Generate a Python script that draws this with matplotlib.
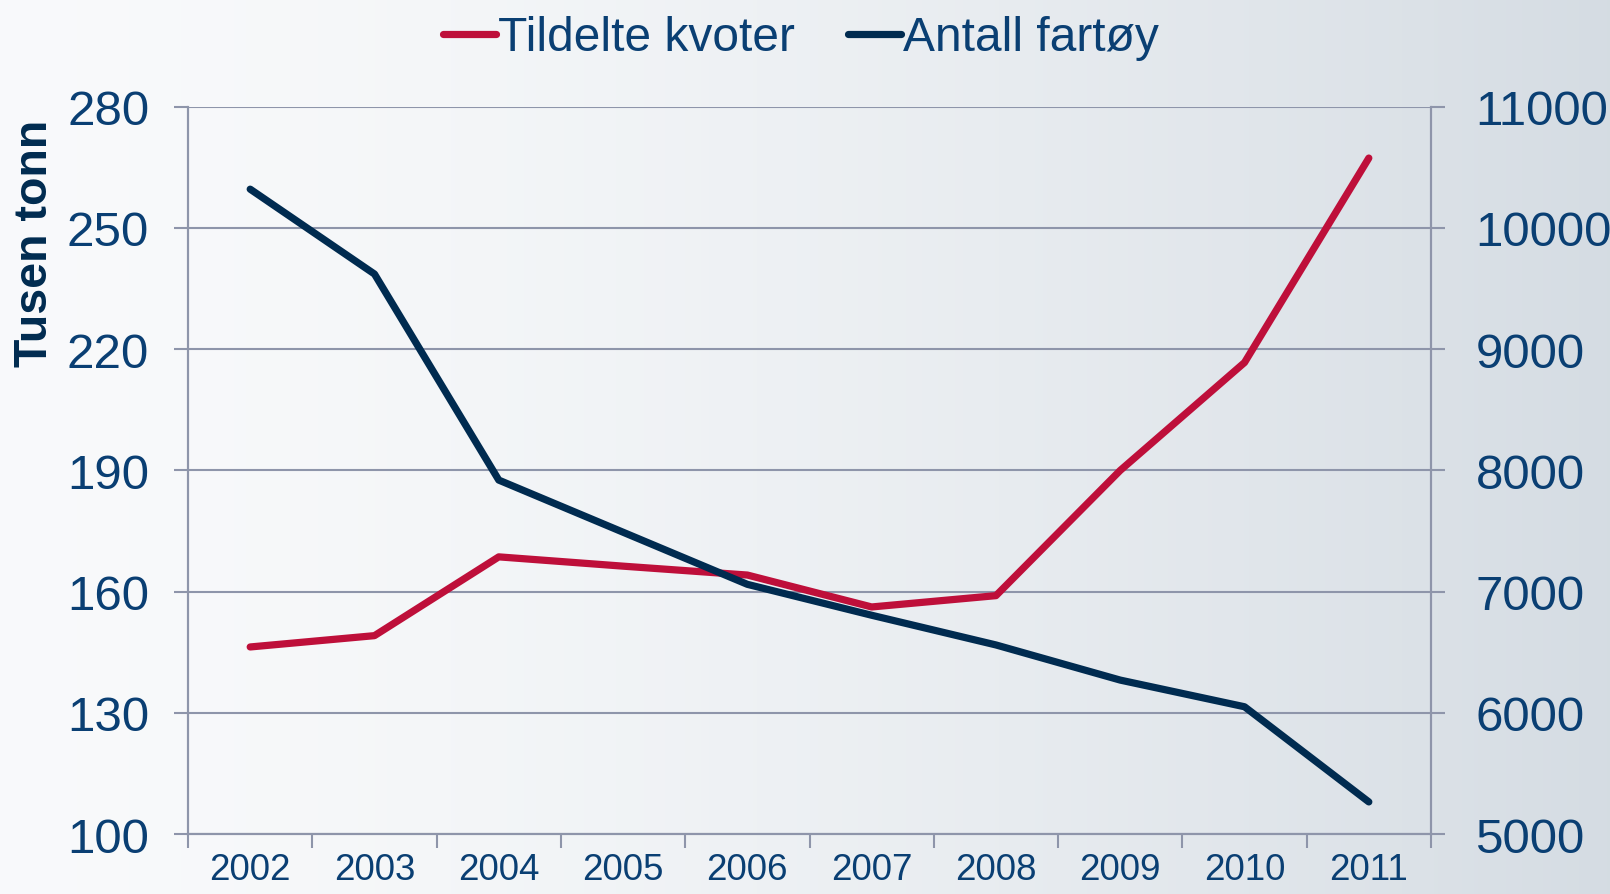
import numpy as np
import matplotlib.pyplot as plt

# data
years = ['2002', '2003', '2004', '2005', '2006', '2007', '2008', '2009', '2010', '2011']
kvoter = [146.3, 149.1, 168.6, 166.3, 164.1, 156.2, 159.0, 190.0, 216.7, 267.3]   # tusen tonn
fartoy = [10320, 9620, 7920, 7490, 7060, 6805, 6560, 6270, 6050, 5265]          # antall

red = '#BE0F3A'
navy = '#002B50'
txt = '#0A3F73'
grid = '#8E95AA'

plt.rcParams['font.family'] = ['Liberation Sans', 'DejaVu Sans']

fig = plt.figure(figsize=(16.1, 8.95), dpi=100)

# background gradient, white on the left to pale blue-grey on the right
bg = fig.add_axes([0, 0, 1, 1], zorder=-10)
c0 = np.array([0.975, 0.980, 0.985])
c1 = np.array([0.835, 0.863, 0.890])
t = np.linspace(0, 1, 400) ** 1.6
grad = c0[None, :] * (1 - t[:, None]) + c1[None, :] * t[:, None]
bg.imshow(grad[None, :, :], aspect='auto', extent=[0, 1, 0, 1])
bg.axis('off')

ax = fig.add_axes([0.1168, 0.067, 0.772, 0.8126])
ax.set_facecolor('none')
ax2 = ax.twinx()

x = np.arange(len(years))
l1, = ax.plot(x, kvoter, color=red, lw=5.2, solid_capstyle='round', solid_joinstyle='round',
              label='Tildelte kvoter', zorder=3)
l2, = ax2.plot(x, fartoy, color=navy, lw=5.2, solid_capstyle='round', solid_joinstyle='round',
               label='Antall fartøy', zorder=3)

ax.set_xlim(-0.5, len(years) - 0.5)
ax.set_ylim(100, 280)
ax.set_yticks(np.arange(100, 281, 30))
ax2.set_ylim(5000, 11000)
ax2.set_yticks(np.arange(5000, 11001, 1000))

ax.set_xticks(x)
ax.set_xticklabels(years)
ax.set_xticks(np.arange(-0.5, len(years), 1), minor=True)
ax.tick_params(axis='x', which='major', length=0, pad=13, labelsize=26.5, labelcolor=txt)
ax.tick_params(axis='x', which='minor', length=10, width=1.5, color=grid, direction='out')
ax.tick_params(axis='y', length=10, width=1.5, color=grid, labelsize=35.5, labelcolor=txt, pad=18)
ax2.tick_params(axis='y', length=10, width=1.5, color=grid, labelsize=35.5, labelcolor=txt, pad=22)

ax.grid(axis='y', color=grid, lw=1.5)
ax.set_axisbelow(True)
for a in (ax, ax2):
    a.spines['top'].set_visible(False)
    for s in ('left', 'right', 'bottom'):
        a.spines[s].set_color(grid)
        a.spines[s].set_linewidth(1.5)

# axis title sits high, not centred on the axis
fig.text(0.0215, 0.728, 'Tusen tonn', rotation=90, ha='center', va='center',
         fontsize=33.5, fontweight='bold', color=navy)

leg = fig.legend(handles=[l1, l2], loc='upper center', bbox_to_anchor=(0.4975, 1.030), ncol=2,
                 frameon=False, fontsize=34.5, handlelength=1.1, handletextpad=0.05,
                 columnspacing=1.1, labelcolor=txt)

fig.savefig('out.png', dpi=100)
